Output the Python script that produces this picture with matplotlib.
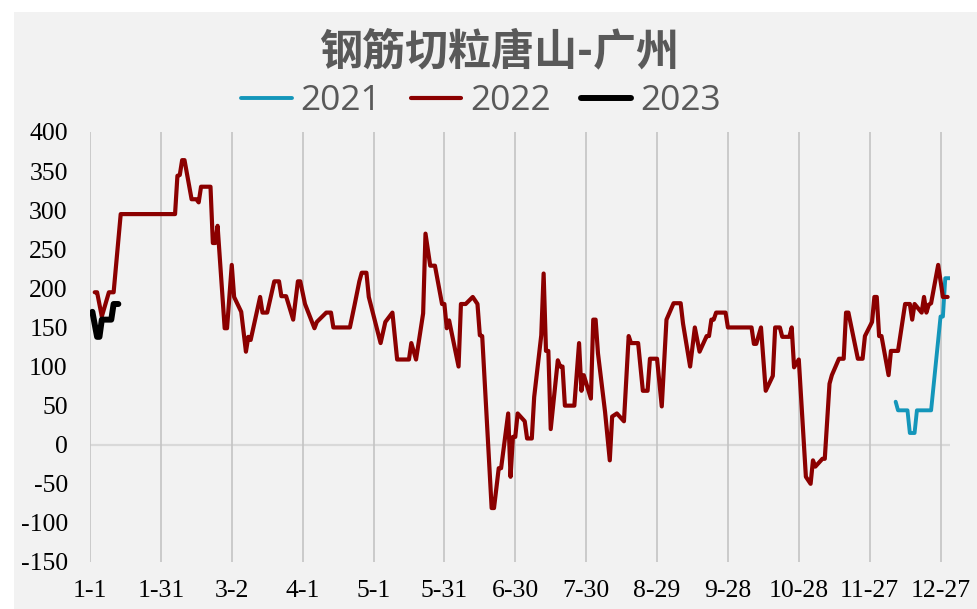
import matplotlib
matplotlib.use('Agg')
import matplotlib.pyplot as plt
from matplotlib.patches import Rectangle

title = '钢筋切粒唐山-广州'
series_names = ['2021', '2022', '2023']
series_colors = ['#1496ba', '#8b0000', '#000000']

# day offset from Jan 1 and spread value (yuan/ton)
days_2021 = [341, 342, 346, 347, 349, 350, 356, 360, 361, 362, 364]
vals_2021 = [55, 44, 44, 15, 15, 44, 44, 164, 164, 213, 213]

days_2022 = [2, 3, 5, 8, 10, 13, 36, 37, 38, 39, 40, 43, 45, 46, 47, 51, 52, 53, 54,
             57, 58, 60, 61, 64, 66, 67, 68, 72, 73, 75, 78, 80, 81, 83, 86, 88, 89,
             91, 95, 96, 100, 102, 103, 110, 112, 114, 115, 117, 118, 123, 125, 128,
             130, 135, 136, 138, 141, 142, 144, 146, 149, 150, 151, 152, 156, 157,
             159, 162, 164, 165, 166, 170, 171, 173, 174, 177, 178, 179, 180, 181,
             184, 185, 187, 188, 191, 192, 193, 194, 195, 198, 199, 200, 201, 205,
             207, 208, 209, 212, 213, 214, 215, 218, 220, 221, 223, 226, 228, 229,
             232, 234, 236, 237, 240, 242, 244, 247, 250, 251, 254, 256, 258, 261,
             262, 263, 264, 265, 269, 270, 280, 281, 282, 284, 286, 289, 290, 292,
             293, 296, 297, 298, 300, 303, 305, 306, 307, 310, 311, 313, 314, 317,
             319, 320, 321, 325, 327, 328, 331, 332, 333, 334, 335, 338, 339, 342,
             345, 347, 348, 349, 352, 353, 354, 355, 356, 359, 361, 363]
vals_2022 = [195, 195, 164, 195, 195, 295, 295, 344, 345, 364, 364, 314, 314, 310, 330,
             330, 258, 258, 280,
             149, 149, 230, 189, 170, 119, 138, 134, 189, 169, 169, 209, 209, 190, 190,
             160, 209, 209,
             180, 149, 157, 169, 169, 150, 150, 179, 209, 220, 220, 189, 130, 157, 169,
             109, 109, 130, 109, 168, 270, 229, 229, 180, 180, 149, 159, 100, 180,
             180, 189, 180, 140, 139, -81, -81, -30, -30, 40, -41, 10, 10, 40,
             30, 8, 8, 61, 140, 219, 120, 120, 20, 108, 100, 100, 50, 50,
             130, 69, 89, 59, 160, 160, 117, 42, -20, 36, 40, 30, 139, 130,
             130, 69, 69, 110, 110, 49, 160, 181, 181, 155, 100, 150, 119, 139,
             139, 160, 160, 169, 169, 150, 150, 129, 129, 150, 69, 88, 150, 150,
             138, 138, 150, 99, 109, -41, -50, -20, -28, -18, -18, 78, 89, 110,
             110, 169, 169, 110, 110, 139, 157, 189, 189, 139, 139, 89, 120, 120,
             180, 180, 160, 180, 169, 189, 169, 179, 181, 230, 189, 189]

days_2023 = [1, 3, 4, 5, 9, 10, 12]
vals_2023 = [170, 138, 138, 160, 160, 180, 180]

tick_days = [0, 30, 60, 90, 120, 150, 180, 210, 240, 270, 300, 330, 360]
tick_labels = ['1-1', '1-31', '3-2', '4-1', '5-1', '5-31', '6-30', '7-30', '8-29',
               '9-28', '10-28', '11-27', '12-27']
y_ticks = [-150, -100, -50, 0, 50, 100, 150, 200, 250, 300, 350, 400]

W, H = 978, 609
fig = plt.figure(figsize=(W / 100, H / 100), dpi=100)
fig.patch.set_facecolor('white')
fig.patches.append(Rectangle((14 / W, 0), 1 - 14 / W, 1 - 12 / H,
                             transform=fig.transFigure, facecolor='#f2f2f2',
                             edgecolor='none', zorder=-10))

ax = fig.add_axes([90 / W, 1 - 562 / H, 860 / W, (562 - 132) / H])
ax.set_zorder(1)
ax.set_facecolor('none')
for s in ax.spines.values():
    s.set_visible(False)

ax.set_xlim(0, 364)
ax.set_ylim(-150, 400)
ax.set_xticks(tick_days)
ax.set_xticklabels(tick_labels)
ax.set_yticks(y_ticks)
ax.set_yticklabels([str(v) for v in y_ticks])
ax.tick_params(axis='both', length=0, labelsize=18.5, labelcolor='black')
ax.tick_params(axis='y', pad=16)
ax.tick_params(axis='x', pad=13)
for lab in ax.get_xticklabels() + ax.get_yticklabels():
    lab.set_fontfamily('Liberation Serif')

ax.grid(axis='x', color='#c4c4c4', lw=1.2, zorder=1)
ax.grid(axis='y', visible=False)
ax.axhline(0, color='#d9d9d9', lw=1.6, zorder=1)

widths = [2.8, 3.0, 4.3]
all_days = [days_2021, days_2022, days_2023]
all_vals = [vals_2021, vals_2022, vals_2023]
handles = []
for name, c, lw, d, v in zip(series_names, series_colors, widths, all_days, all_vals):
    h, = ax.plot(d, v, color=c, lw=lw, label=name, solid_joinstyle='round',
                 solid_capstyle='round', zorder=3)
    handles.append(h)

fig.text(0.51, 1 - 51 / H, title, ha='center', va='center', fontsize=31,
         fontweight='bold', color='#595959',
         family=['Noto Sans CJK SC', 'DejaVu Sans'])

leg = fig.legend(handles=handles, labels=series_names, loc='center',
                 bbox_to_anchor=(481 / W, 1 - 101 / H), ncol=3, frameon=False,
                 prop={'family': 'Open Sans', 'size': 25.5},
                 handlelength=1.42, handletextpad=0.25, columnspacing=0.85,
                 borderpad=0, borderaxespad=0)
for t in leg.get_texts():
    t.set_color('#595959')

fig.savefig('out.png', dpi=100, facecolor=fig.get_facecolor())
